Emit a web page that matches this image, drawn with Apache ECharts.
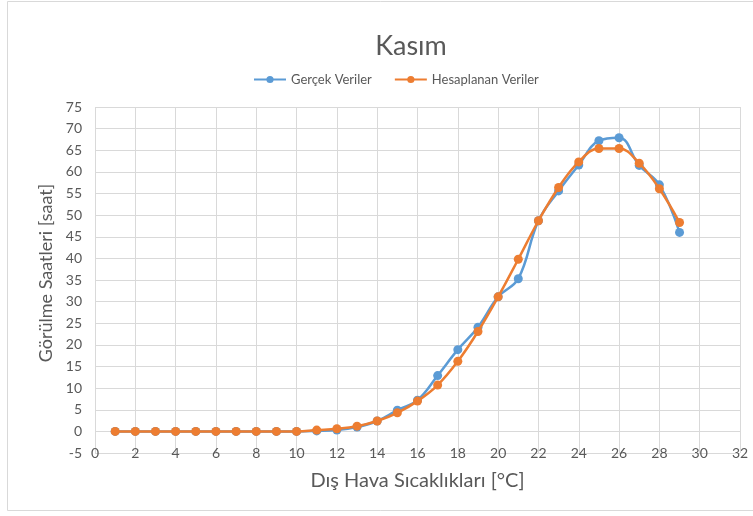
<!DOCTYPE html>
<html>
<head>
<meta charset="utf-8">
<script src="https://cdn.jsdelivr.net/npm/echarts@6/dist/echarts.min.js"></script>
<style>
  html, body { margin: 0; padding: 0; background: #ffffff; }
  #chart { width: 753px; height: 516px; }
</style>
</head>
<body>
<div id="chart"></div>
<script>
// Outdoor temperature (°C)
const temperatures = [1, 2, 3, 4, 5, 6, 7, 8, 9, 10, 11, 12, 13, 14, 15, 16, 17, 18, 19, 20, 21, 22, 23, 24, 25, 26, 27, 28, 29];
// Measured occurrence hours
const gercekVeriler = [0, 0, 0, 0, 0, 0, 0, 0, 0, 0, 0.1, 0.3, 1.0, 2.4, 4.9, 7.2, 12.9, 18.9, 24.1, 31.1, 35.3, 48.7, 55.6, 61.6, 67.2, 67.9, 61.5, 57.0, 46.0];
// Calculated occurrence hours
const hesaplananVeriler = [0, 0, 0, 0, 0, 0, 0, 0, 0, 0, 0.3, 0.6, 1.2, 2.4, 4.3, 7.0, 10.7, 16.2, 23.1, 31.1, 39.8, 48.7, 56.4, 62.3, 65.4, 65.4, 62.0, 56.1, 48.3];

const seriesNames = ['Gerçek Veriler', 'Hesaplanan Veriler'];
const chartTitle = 'Kasım';
const xAxisTitle = 'Dış Hava Sıcaklıkları [°C]';
const yAxisTitle = 'Görülme Saatleri [saat]';

const FONT = 'Lato';
const TEXT = '#595959';
const GRID_LINE = '#d9d9d9';

const pairs = (ys) => temperatures.map((t, i) => [t, ys[i]]);

const chart = echarts.init(document.getElementById('chart'), null, { renderer: 'canvas' });

chart.setOption({
  backgroundColor: '#ffffff',
  animation: false,
  textStyle: { fontFamily: FONT },
  graphic: [{
    type: 'rect',
    shape: { x: 7.5, y: 1.5, width: 800, height: 509 },
    style: { fill: 'none', stroke: GRID_LINE, lineWidth: 1 },
    silent: true,
    z: -10
  }],
  title: {
    text: chartTitle,
    left: 406,
    textAlign: 'center',
    top: 28,
    textStyle: { fontFamily: FONT, fontSize: 27, fontWeight: 'normal', color: TEXT }
  },
  legend: {
    top: 68,
    left: 248,
    itemWidth: 32,
    itemHeight: 9,
    itemGap: 22,
    textStyle: { fontFamily: FONT, fontSize: 13, color: TEXT },
    data: seriesNames
  },
  grid: {
    left: 95,
    right: 13,
    top: 107,
    bottom: 63,
    outerBoundsMode: 'none'
  },
  xAxis: {
    type: 'value',
    min: 0,
    max: 32,
    interval: 2,
    name: xAxisTitle,
    nameLocation: 'middle',
    nameGap: 18,
    nameTextStyle: { fontFamily: FONT, fontSize: 20, color: TEXT },
    axisLine: { show: false },
    axisTick: { show: false },
    axisLabel: { fontFamily: FONT, fontSize: 14, color: TEXT, margin: 0, verticalAlign: 'middle' },
    splitLine: { show: true, lineStyle: { color: GRID_LINE, width: 1 } }
  },
  yAxis: {
    type: 'value',
    min: -5,
    max: 75,
    interval: 5,
    name: yAxisTitle,
    nameLocation: 'middle',
    nameGap: 40,
    nameTextStyle: { fontFamily: FONT, fontSize: 18, color: TEXT, padding: [0, 0, 0, 14] },
    axisLine: { show: false },
    axisTick: { show: false },
    axisLabel: { fontFamily: FONT, fontSize: 14, color: TEXT, margin: 13 },
    splitLine: { show: true, lineStyle: { color: GRID_LINE, width: 1 } }
  },
  series: [
    {
      name: seriesNames[0],
      type: 'line',
      data: pairs(gercekVeriler),
      smooth: 0.4,
      symbol: 'circle',
      symbolSize: 9,
      color: '#5B9BD5',
      lineStyle: { width: 2.5, color: '#5B9BD5' },
      itemStyle: { color: '#5B9BD5' },
      z: 2
    },
    {
      name: seriesNames[1],
      type: 'line',
      data: pairs(hesaplananVeriler),
      smooth: 0.4,
      symbol: 'circle',
      symbolSize: 9,
      color: '#ED7D31',
      lineStyle: { width: 2.5, color: '#ED7D31' },
      itemStyle: { color: '#ED7D31' },
      z: 3
    }
  ]
});
</script>
</body>
</html>
